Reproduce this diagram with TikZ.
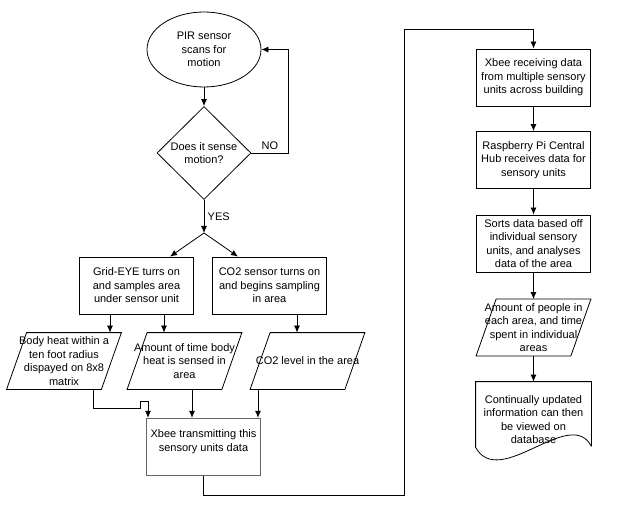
\documentclass[tikz,border=0pt]{standalone}
\usepackage{fontspec}
\setmainfont{Liberation Sans}
\usetikzlibrary{shapes.geometric,arrows.meta}

\tikzset{
  box/.style={draw, minimum width=114pt, minimum height=57pt, inner sep=2pt, align=center},
  iobox/.style={minimum width=114pt, minimum height=56pt, inner sep=1pt, align=center,
    append after command={\pgfextra{\begin{pgfinterruptpath}
      \draw (\tikzlastnode.south west) -- ([xshift=20pt]\tikzlastnode.north west)
        -- (\tikzlastnode.north east) -- ([xshift=-20pt]\tikzlastnode.south east) -- cycle;
    \end{pgfinterruptpath}}}},
  docbox/.style={minimum width=115pt, minimum height=75pt, inner sep=1pt, align=center,
    append after command={\pgfextra{\begin{pgfinterruptpath}
      \draw ([yshift=11pt]\tikzlastnode.south east) -- (\tikzlastnode.north east)
        -- (\tikzlastnode.north west) -- ([yshift=10pt]\tikzlastnode.south west)
        .. controls +(24,43) and +(-21,-41) .. ([yshift=11pt]\tikzlastnode.south east);
    \end{pgfinterruptpath}}}}
}

\begin{document}
\begin{tikzpicture}[x=1pt, y=-1pt, line width=0.8pt, >={Latex[length=7pt,width=6pt]},
    every node/.style={font=\fontsize{11}{13.5}\selectfont}]
    \useasboundingbox (0,0) rectangle (635,505);

    % left column
    \node[draw, ellipse, minimum width=114pt, minimum height=75pt, inner sep=0pt, align=center] (pir) at (204, 49.5) {PIR sensor\\scans for\\motion};
    \node[draw, diamond, minimum width=94pt, minimum height=93pt, inner sep=0pt, align=center] (sense) at (204, 153) {Does it sense\\motion?};
    \coordinate (split) at (204, 233);
    \node[box] (grid) at (136.5, 285.5) {Grid-EYE turrs on\\and samples area\\under sensor unit};
    \node[box] (co2) at (269.5, 285.5) {CO2 sensor turns on\\and begins sampling\\in area};
    \node[iobox] (heat) at (64, 361) {Body heat within a\\ten foot radius\\dispayed on 8x8\\matrix};
    \node[iobox] (time) at (184.5, 361) {Amount of time body\\heat is sensed in\\area};
    \node[iobox] (level) at (307.5, 361) {CO2 level in the area};
    \node[box, draw=black!60, line width=1.4pt, text depth=13pt] (send) at (203.5, 447) {Xbee transmitting this\\sensory units data};

    % right column
    \coordinate (turn) at (404, 29);
    \node[box] (recv) at (533.5, 77.5) {Xbee receiving data\\from multiple sensory\\units across building};
    \node[box] (hub) at (533.5, 160) {Raspberry Pi Central\\Hub receives data for\\sensory units};
    \node[box] (sort) at (533.5, 243.5) {Sorts data based off\\individual sensory\\units, and analyses\\data of the area};
    \node[iobox] (people) at (533.5, 327.5) {Amount of people in\\each area, and time\\spent in individual\\areas};
    \node[docbox] (db) at (533.5, 419.5) {Continually updated\\information can then\\be viewed on\\database};

    \draw[->] (pir) -- (sense);
    \draw[->] (sense.east) -- node[above] {NO} ++(37,0) |- (pir.east);
    \draw[->] (sense.south) -- node[right] {YES} (split);
    \draw[->] (split) -- ([xshift=33.5pt]grid.north);
    \draw[->] (split) -- ([xshift=-31.5pt]co2.north);
    \draw[->] ([xshift=-26.5pt]grid.south) -- ([xshift=46pt]heat.north);
    \draw[->] ([xshift=27.5pt]grid.south) -- ([xshift=-20.5pt]time.north);
    \draw[->] ([xshift=27.5pt]co2.south) -- ([xshift=-10.5pt]level.north);
    \draw[->] ([xshift=29pt]heat.south) -- ++(0,19) -- ++(47,0) -- ++(0,-7) -- ++(8,0) -- ([xshift=-55.5pt]send.north);
    \draw[->] ([xshift=7.5pt]time.south) -- ([xshift=-11.5pt]send.north);
    \draw[->] ([xshift=-49.5pt]level.south) -- ([xshift=54.5pt]send.north);

    \draw[->] (send.south) -- ++(0,19) -| (turn) -| (recv.north);
    \draw[->] (recv) -- (hub);
    \draw[->] (hub) -- (sort);
    \draw[->] (sort) -- (people);
    \draw[->] (people) -- (db);
\end{tikzpicture}
\end{document}
